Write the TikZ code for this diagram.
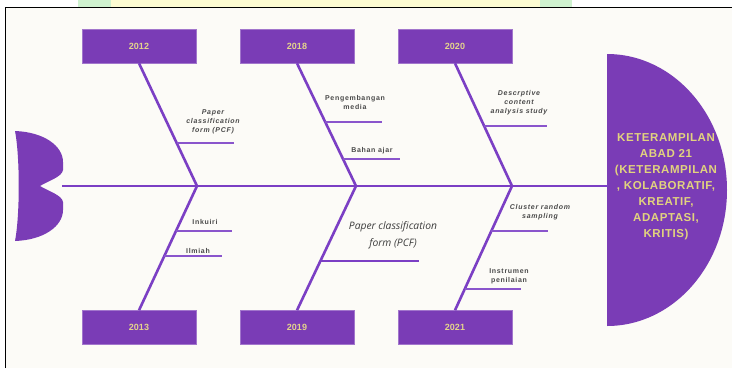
\documentclass[tikz,border=0pt]{standalone}
\usepackage{fontspec}
\setmainfont{Liberation Sans}
\newfontfamily\lblfont[LetterSpace=10]{Liberation Sans}
\newfontfamily\headfont[LetterSpace=5]{Liberation Sans}
\newfontfamily\opensans{Open Sans}
\usetikzlibrary{calc}
\definecolor{fishpurple}{HTML}{7A3CB6}
\definecolor{bonepurple}{HTML}{7B3FC4}
\definecolor{subpurple}{HTML}{8A55CC}
\definecolor{yeartext}{HTML}{E4D48C}
\definecolor{headtext}{HTML}{E2D37E}
\definecolor{labelgray}{HTML}{4A4A4A}
\definecolor{biggray}{HTML}{3C3C3C}
\definecolor{cream}{HTML}{FCFBF7}
\definecolor{stripgreen}{HTML}{CFF2CF}
\definecolor{stripyellow}{HTML}{FDFCD2}
\tikzset{
  yearbox/.style={fill=fishpurple, draw=fishpurple!70!white, line width=0.5pt, minimum width=114pt, minimum height=34pt, inner sep=0pt,
    text=yeartext, font=\bfseries\fontsize{9}{10}\selectfont},
  bone/.style={draw=bonepurple, line width=2.6pt},
  subbone/.style={draw=subpurple, line width=1.8pt},
  lbl/.style={text=labelgray, align=center, inner sep=0pt, font=\lblfont\bfseries\fontsize{7}{9}\selectfont},
  lbli/.style={lbl, font=\lblfont\bfseries\itshape\fontsize{7}{9}\selectfont},
  biglbl/.style={text=biggray, align=center, inner sep=0pt, font=\opensans\itshape\fontsize{10.3}{17}\selectfont},
  headlbl/.style={text=headtext, align=center, inner sep=0pt, font=\headfont\bfseries\fontsize{11.5}{16}\selectfont}
}
\begin{document}
\begin{tikzpicture}[x=1pt,y=-1pt]
\useasboundingbox (0,0) rectangle (732,368);
% page strip and frame
\fill[white] (0,0) rectangle (732,368);
\fill[stripgreen] (78,0) rectangle (111,7);
\fill[stripyellow] (111,0) rectangle (540,7);
\fill[stripgreen] (540,0) rectangle (572,7);
\fill[cream] (6,8) rectangle (732,368);
\draw[black, line width=1.6pt] (5.5,368) -- (5.5,7.5) -- (732,7.5);

% tail
\fill[fishpurple] (15,131) .. controls (44,132) and (63,146) .. (63,162)
  -- (63,170) .. controls (62,177) and (48,181) .. (40,186)
  .. controls (48,191) and (62,195) .. (63,202) -- (63,210)
  .. controls (63,226) and (44,240) .. (15,241)
  .. controls (20,215) and (20,157) .. (15,131) -- cycle;
% head
\fill[fishpurple] (607,54) arc[start angle=-90, end angle=90, x radius=120, y radius=136] -- cycle;
\node[headlbl] (head) at (666,187) {KETERAMPILAN\\ABAD 21\\(KETERAMPILAN\\, KOLABORATIF,\\KREATIF,\\ADAPTASI,\\KRITIS)};

\coordinate (tailend) at (62,186);
\coordinate (headstart) at (608,186);
\coordinate (j1) at (197,186);
\coordinate (j2) at (356,186);
\coordinate (j3) at (512,186);
\draw[bone] (tailend) -- (headstart);

% year boxes
\node[yearbox] (b2012) at (139,46) {2012};
\node[yearbox] (b2018) at (297,46) {2018};
\node[yearbox] (b2020) at (455,46) {2020};
\node[yearbox] (b2013) at (139,327.5) {2013};
\node[yearbox] (b2019) at (297,327.5) {2019};
\node[yearbox] (b2021) at (455,327.5) {2021};

% bones
\draw[bone] (b2012.south) -- (j1);
\draw[bone] (b2018.south) -- (j2);
\draw[bone] (b2020.south) -- (j3);
\draw[bone] (j1) -- (b2013.north);
\draw[bone] (j2) -- (b2019.north);
\draw[bone] (j3) -- (b2021.north);

% sub-bones top
\coordinate (s1) at ($(b2012.south)!0.65!(j1)$);
\draw[subbone] (s1) -- ++(57,0);
\coordinate (s2) at ($(b2018.south)!0.48!(j2)$);
\draw[subbone] (s2) -- ++(57,0);
\coordinate (s3) at ($(b2018.south)!0.78!(j2)$);
\draw[subbone] (s3) -- ++(57,0);
\coordinate (s4) at ($(b2020.south)!0.51!(j3)$);
\draw[subbone] (s4) -- ++(63,0);
% sub-bones bottom
\coordinate (s5) at ($(j1)!0.363!(b2013.north)$);
\draw[subbone] (s5) -- ++(56,0);
\coordinate (s6) at ($(j1)!0.565!(b2013.north)$);
\draw[subbone] (s6) -- ++(58,0);
\coordinate (s7) at ($(j2)!0.605!(b2019.north)$);
\draw[bone] (s7) -- ++(99,0);
\coordinate (s8) at ($(j3)!0.363!(b2021.north)$);
\draw[subbone] (s8) -- ++(57,0);
\coordinate (s9) at ($(j3)!0.83!(b2021.north)$);
\draw[subbone] (s9) -- ++(56,0);

% labels
\node[lbli] (l1) at (213,122) {Paper\\classification\\form (PCF)};
\node[lbl] (l2) at (355,102.5) {Pengembangan\\media};
\node[lbl] (l3) at (372,151) {Bahan ajar};
\node[lbli] (l4) at (519,103) {Descrptive\\content\\analysis study};
\node[lbl] (l5) at (205,222) {Inkuiri};
\node[lbl] (l6) at (198,251) {Ilmiah};
\node[biglbl] (l7) at (393,235.5) {Paper classification\\form (PCF)};
\node[lbli] (l8) at (540,212.5) {Cluster random\\sampling};
\node[lbl] (l9) at (509,276.5) {Instrumen\\penilaian};
\end{tikzpicture}
\end{document}
